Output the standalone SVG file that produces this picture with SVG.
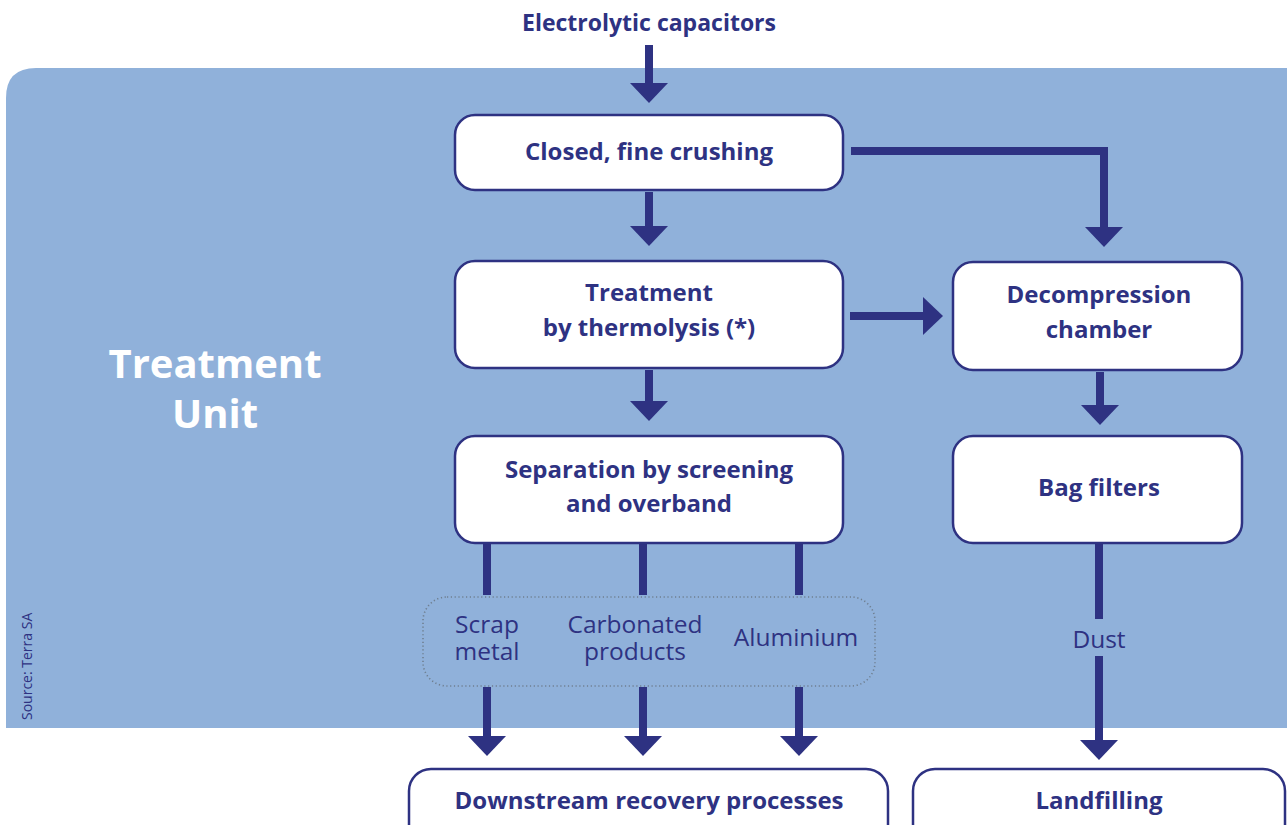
<svg xmlns="http://www.w3.org/2000/svg" width="1287" height="825" viewBox="0 0 1287 825">
  <style>
    .panel { fill: #90b1da; }
    .box { fill: #ffffff; stroke: #2e3282; stroke-width: 2.5; }
    .lbl { font-family: "Open Sans", "Liberation Sans", sans-serif; font-weight: 700; font-size: 24px; fill: #2e3282; text-anchor: middle; }
    .top { font-size: 23px; }
    .out { font-family: "Open Sans", "Liberation Sans", sans-serif; font-weight: 400; font-size: 24.5px; fill: #2e3282; text-anchor: middle; }
    .title { font-family: "Open Sans", "Liberation Sans", sans-serif; font-weight: 700; font-size: 40px; fill: #ffffff; text-anchor: middle; }
    .src { font-family: "Open Sans", "Liberation Sans", sans-serif; font-size: 14px; fill: #2e3282; }
    .flow { fill: none; stroke: #2e3282; stroke-width: 8; stroke-linejoin: miter; }
    .dots { fill: none; stroke: #6f7f90; stroke-width: 1.6; stroke-dasharray: 1.2 2.6; }
  </style>
  <defs>
    <marker id="head" markerUnits="userSpaceOnUse" viewBox="0 0 20 38" markerWidth="20" markerHeight="38" refX="1" refY="19" orient="auto">
      <path d="M0,0 L20,19 L0,38 Z" fill="#2e3282"/>
    </marker>
  </defs>

  <!-- treatment unit background panel -->
  <path class="panel" d="M6,728 V98 Q6,68 36,68 H1287 V728 Z"/>
  <text class="title" x="215" y="378">Treatment</text>
  <text class="title" x="215" y="428">Unit</text>
  <text class="src" transform="translate(32,720) rotate(-90)">Source: Terra SA</text>

  <!-- connectors -->
  <g id="connectors">
    <line class="flow" x1="649" y1="45" x2="649" y2="84" marker-end="url(#head)"/>
    <line class="flow" x1="649" y1="192" x2="649" y2="227" marker-end="url(#head)"/>
    <line class="flow" x1="649" y1="370" x2="649" y2="402" marker-end="url(#head)"/>
    <path class="flow" d="M851,151 H1104 V228" marker-end="url(#head)"/>
    <line class="flow" x1="850" y1="316" x2="924" y2="316" marker-end="url(#head)"/>
    <line class="flow" x1="1100" y1="372" x2="1100" y2="406" marker-end="url(#head)"/>
    <line class="flow" x1="487" y1="543" x2="487" y2="595"/>
    <line class="flow" x1="643" y1="543" x2="643" y2="595"/>
    <line class="flow" x1="799" y1="543" x2="799" y2="595"/>
    <line class="flow" x1="487" y1="687" x2="487" y2="737" marker-end="url(#head)"/>
    <line class="flow" x1="643" y1="687" x2="643" y2="737" marker-end="url(#head)"/>
    <line class="flow" x1="799" y1="687" x2="799" y2="737" marker-end="url(#head)"/>
    <line class="flow" x1="1099" y1="543" x2="1099" y2="619"/>
    <line class="flow" x1="1099" y1="656" x2="1099" y2="741" marker-end="url(#head)"/>
  </g>

  <text id="source-node" class="lbl top" x="649" y="31">Electrolytic capacitors</text>

  <g id="crushing">
    <rect class="box" x="455" y="115" width="388" height="75" rx="20"/>
    <text class="lbl" x="649" y="160">Closed, fine crushing</text>
  </g>

  <g id="thermolysis">
    <rect class="box" x="455" y="261" width="388" height="107" rx="20"/>
    <text class="lbl" x="649" y="301">Treatment</text>
    <text class="lbl" x="649" y="336">by thermolysis (*)</text>
  </g>

  <g id="separation">
    <rect class="box" x="455" y="436" width="388" height="107" rx="20"/>
    <text class="lbl" x="649" y="478">Separation by screening</text>
    <text class="lbl" x="649" y="512">and overband</text>
  </g>

  <g id="decompression">
    <rect class="box" x="953" y="262" width="289" height="108" rx="20"/>
    <text class="lbl" x="1099" y="303">Decompression</text>
    <text class="lbl" x="1099" y="338">chamber</text>
  </g>

  <g id="bag-filters">
    <rect class="box" x="953" y="436" width="289" height="107" rx="20"/>
    <text class="lbl" x="1099" y="496">Bag filters</text>
  </g>

  <g id="fractions">
    <rect class="dots" x="423" y="597" width="452" height="89" rx="24"/>
    <text class="out" x="487" y="633">Scrap</text>
    <text class="out" x="487" y="660">metal</text>
    <text class="out" x="635" y="633">Carbonated</text>
    <text class="out" x="635" y="660">products</text>
    <text class="out" x="796" y="646">Aluminium</text>
  </g>

  <text id="dust" class="out" x="1099" y="648">Dust</text>

  <g id="recovery">
    <rect class="box" x="409" y="769" width="479" height="80" rx="22"/>
    <text class="lbl" x="649" y="809">Downstream recovery processes</text>
  </g>

  <g id="landfilling">
    <rect class="box" x="913" y="769" width="372" height="80" rx="22"/>
    <text class="lbl" x="1099" y="809">Landfilling</text>
  </g>
</svg>
